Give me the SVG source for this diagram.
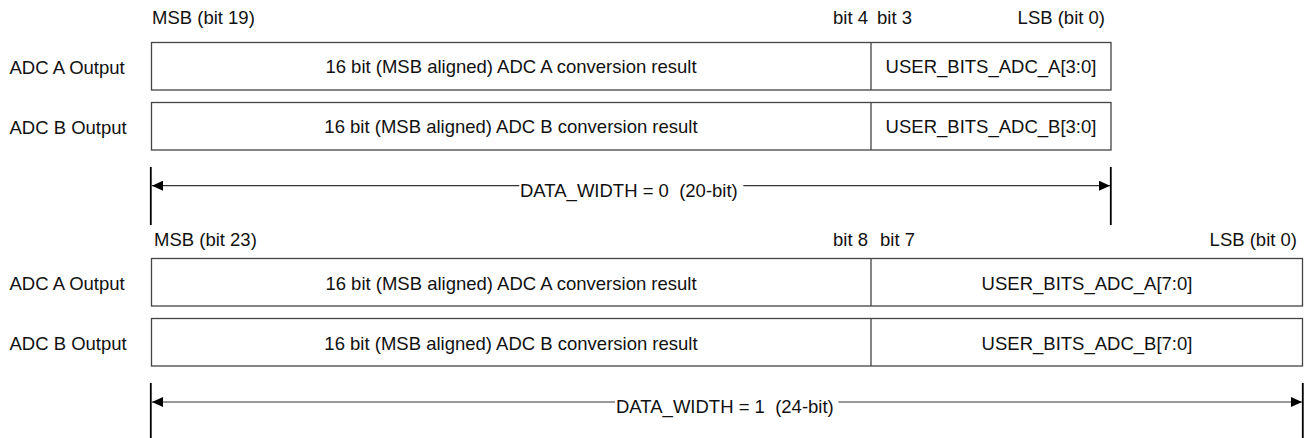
<svg xmlns="http://www.w3.org/2000/svg" width="1309" height="438" viewBox="0 0 1309 438">
<style>
text { font-family: "Liberation Sans", Arial, sans-serif; font-size: 18.5px; fill: #111; white-space: pre; }
.mid { text-anchor: middle; }
.end { text-anchor: end; }
.box { fill: #fff; stroke: #444; stroke-width: 1.3; }
.div { stroke: #444; stroke-width: 1.3; }
.dim { stroke: #333; stroke-width: 1.2; fill: none; }
.tick { stroke: #000; stroke-width: 1.8; }
</style>
<defs>
<marker id="ah" viewBox="0 0 11 10" refX="11" refY="5" markerWidth="11" markerHeight="10" markerUnits="userSpaceOnUse" orient="auto-start-reverse">
<path d="M0,0 L11,5 L0,10 z" fill="#000"/>
</marker>
</defs>

<g id="labels-20bit">
<text x="152" y="24">MSB (bit 19)</text>
<text class="end" x="868" y="24">bit 4</text>
<text x="877" y="24">bit 3</text>
<text class="end" x="1105" y="24">LSB (bit 0)</text>
</g>

<g id="row-a-20">
<text x="9.5" y="73.5">ADC A Output</text>
<rect class="box" x="151.5" y="42.5" width="959.5" height="47.5"/>
<line class="div" x1="871" y1="42.5" x2="871" y2="90"/>
<text class="mid" x="511" y="73">16 bit (MSB aligned) ADC A conversion result</text>
<text class="mid" x="991" y="73">USER_BITS_ADC_A[3:0]</text>
</g>

<g id="row-b-20">
<text x="9.5" y="133.5">ADC B Output</text>
<rect class="box" x="151.5" y="102.5" width="959.5" height="47.5"/>
<line class="div" x1="871" y1="102.5" x2="871" y2="150"/>
<text class="mid" x="511" y="133">16 bit (MSB aligned) ADC B conversion result</text>
<text class="mid" x="991" y="133">USER_BITS_ADC_B[3:0]</text>
</g>

<g id="labels-24bit">
<text x="154" y="246">MSB (bit 23)</text>
<text class="end" x="868" y="246">bit 8</text>
<text x="880" y="246">bit 7</text>
<text class="end" x="1297" y="246">LSB (bit 0)</text>
</g>

<g id="row-a-24">
<text x="9.5" y="289.5">ADC A Output</text>
<rect class="box" x="151.5" y="258.5" width="1151" height="47.5"/>
<line class="div" x1="871" y1="258.5" x2="871" y2="306"/>
<text class="mid" x="511" y="289.5">16 bit (MSB aligned) ADC A conversion result</text>
<text class="mid" x="1087" y="289.5">USER_BITS_ADC_A[7:0]</text>
</g>

<g id="row-b-24">
<text x="9.5" y="349.5">ADC B Output</text>
<rect class="box" x="151.5" y="318.5" width="1151" height="47.5"/>
<line class="div" x1="871" y1="318.5" x2="871" y2="366"/>
<text class="mid" x="511" y="349.5">16 bit (MSB aligned) ADC B conversion result</text>
<text class="mid" x="1087" y="349.5">USER_BITS_ADC_B[7:0]</text>
</g>

<g id="connectors">
<line class="tick" x1="150.8" y1="167" x2="150.8" y2="225"/>
<line class="tick" x1="1110.8" y1="167" x2="1110.8" y2="225"/>
<line class="dim" x1="152" y1="185.7" x2="519.3" y2="185.7" marker-start="url(#ah)"/>
<line class="dim" x1="743.3" y1="185.7" x2="1110" y2="185.7" marker-end="url(#ah)"/>

<line class="tick" x1="150.8" y1="383" x2="150.8" y2="438"/>
<line class="tick" x1="1302.8" y1="383" x2="1302.8" y2="438"/>
<line class="dim" x1="152" y1="402" x2="615" y2="402" marker-start="url(#ah)"/>
<line class="dim" x1="838.3" y1="402" x2="1302" y2="402" marker-end="url(#ah)"/>
</g>

<g id="dim-labels">
<text x="520" y="196.5">DATA_WIDTH = 0  (20-bit)</text>
<text x="616" y="412.5">DATA_WIDTH = 1  (24-bit)</text>
</g>
</svg>
